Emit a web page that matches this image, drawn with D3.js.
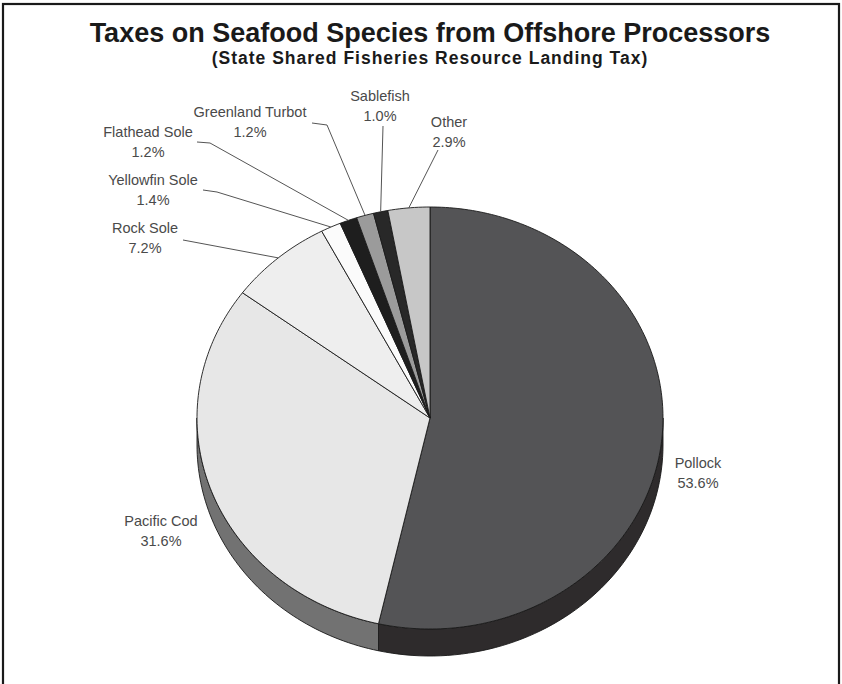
<!DOCTYPE html>
<html>
<head>
<meta charset="utf-8">
<script src="https://cdn.jsdelivr.net/npm/d3@7/dist/d3.min.js"></script>
<style>
  html, body { margin: 0; padding: 0; background: #fff; }
  svg { display: block; }
</style>
</head>
<body>
<svg id="chart" width="842" height="684"></svg>
<script>
// ---- data ----
const categories = ["Pollock", "Pacific Cod", "Rock Sole", "Yellowfin Sole", "Flathead Sole", "Greenland Turbot", "Sablefish", "Other"];
const shares = [53.6, 31.6, 7.2, 1.4, 1.2, 1.2, 1.0, 2.9];
const shareLabels = ["53.6%", "31.6%", "7.2%", "1.4%", "1.2%", "1.2%", "1.0%", "2.9%"];
const titleText = "Taxes on Seafood Species from Offshore Processors";
const subtitleText = "(State Shared Fisheries Resource Landing Tax)";

// ---- styles / layout ----
const topColors  = ["#545456", "#e7e7e7", "#eeeeee", "#fbfbfb", "#1e1e1e", "#9b9b9b", "#282828", "#c7c7c7"];
const sideColors = ["#2e2b2c", "#727272", "#aaaaaa", "#bbbbbb", "#111111", "#666666", "#151515", "#888888"];
// label anchor (text centre x, first baseline y) and leader-line points (start, elbow)
const labelLayout = [
  { x: 698, y: 468, leader: null },
  { x: 161, y: 526, leader: null },
  { x: 145, y: 233, leader: [[183, 240]] },
  { x: 153, y: 185, leader: [[203, 190], [217, 192]] },
  { x: 148, y: 137, leader: [[197, 142], [210, 143]] },
  { x: 250, y: 117, leader: [[312, 123], [327, 125]] },
  { x: 380, y: 101, leader: [[383, 126]] },
  { x: 449, y: 127, leader: [[438, 150]] }
];

const cx = 430, cy = 418, rx = 233, ry = 211, depth = 27;

const svg = d3.select("#chart");

// frame
svg.append("rect").attr("x", 3).attr("y", 4).attr("width", 836).attr("height", 700)
  .attr("fill", "none").attr("stroke", "#1a1a1a").attr("stroke-width", 2.2);

// titles
svg.append("text").attr("x", 430).attr("y", 42).attr("text-anchor", "middle")
  .attr("font-family", "Liberation Sans, Arial, sans-serif").attr("font-weight", "bold")
  .attr("font-size", 27).attr("fill", "#1a1a1a").text(titleText);
svg.append("text").attr("x", 430).attr("y", 64).attr("text-anchor", "middle")
  .attr("font-family", "Liberation Sans, Arial, sans-serif").attr("font-weight", "bold")
  .attr("font-size", 17.5).attr("letter-spacing", 1.0).attr("fill", "#1a1a1a").text(subtitleText);

const data = categories.map((c, i) => ({ name: c, value: shares[i], label: shareLabels[i], i }));
const pie = d3.pie().sort(null).value(d => d.value);
const arcs = pie(data);

const px = a => cx + rx * Math.sin(a);
const py = a => cy - ry * Math.cos(a);

// ---- sides (only front half: angles between PI/2 and 3PI/2) ----
const sideG = svg.append("g");
arcs.forEach(a => {
  const s = Math.max(a.startAngle, Math.PI / 2);
  const e = Math.min(a.endAngle, 3 * Math.PI / 2);
  if (e <= s) return;
  const n = 60;
  const pts = d3.range(n + 1).map(k => s + (e - s) * k / n);
  const top = pts.map(t => [px(t), py(t)]);
  const bottom = pts.slice().reverse().map(t => [px(t), py(t) + depth]);
  sideG.append("path")
    .attr("d", d3.line()(top.concat(bottom)) + "Z")
    .attr("fill", sideColors[a.data.i])
    .attr("stroke", "#1a1a1a").attr("stroke-width", 0.9).attr("stroke-linejoin", "round");
});

// ---- top faces ----
const topG = svg.append("g");
arcs.forEach(a => {
  const n = Math.max(4, Math.ceil((a.endAngle - a.startAngle) * 60));
  const pts = d3.range(n + 1).map(k => a.startAngle + (a.endAngle - a.startAngle) * k / n);
  const path = [[cx, cy]].concat(pts.map(t => [px(t), py(t)]));
  topG.append("path")
    .attr("d", d3.line()(path) + "Z")
    .attr("fill", topColors[a.data.i])
    .attr("stroke", "#1a1a1a").attr("stroke-width", 0.9).attr("stroke-linejoin", "round");
});

// ---- leader lines ----
const leadG = svg.append("g");
arcs.forEach(a => {
  const L = labelLayout[a.data.i];
  if (!L.leader) return;
  const mid = (a.startAngle + a.endAngle) / 2;
  const pts = L.leader.concat([[px(mid), py(mid)]]);
  leadG.append("path").attr("d", d3.line()(pts))
    .attr("fill", "none").attr("stroke", "#555").attr("stroke-width", 1);
});

// ---- labels ----
const labG = svg.append("g")
  .attr("font-family", "Liberation Sans, Arial, sans-serif")
  .attr("font-size", 14.5).attr("fill", "#4a4a4a").attr("text-anchor", "middle");
arcs.forEach(a => {
  const L = labelLayout[a.data.i];
  const t = labG.append("text").attr("x", L.x).attr("y", L.y);
  t.append("tspan").attr("x", L.x).attr("dy", 0).text(a.data.name);
  t.append("tspan").attr("x", L.x).attr("dy", 20).text(a.data.label);
});
</script>
</body>
</html>
